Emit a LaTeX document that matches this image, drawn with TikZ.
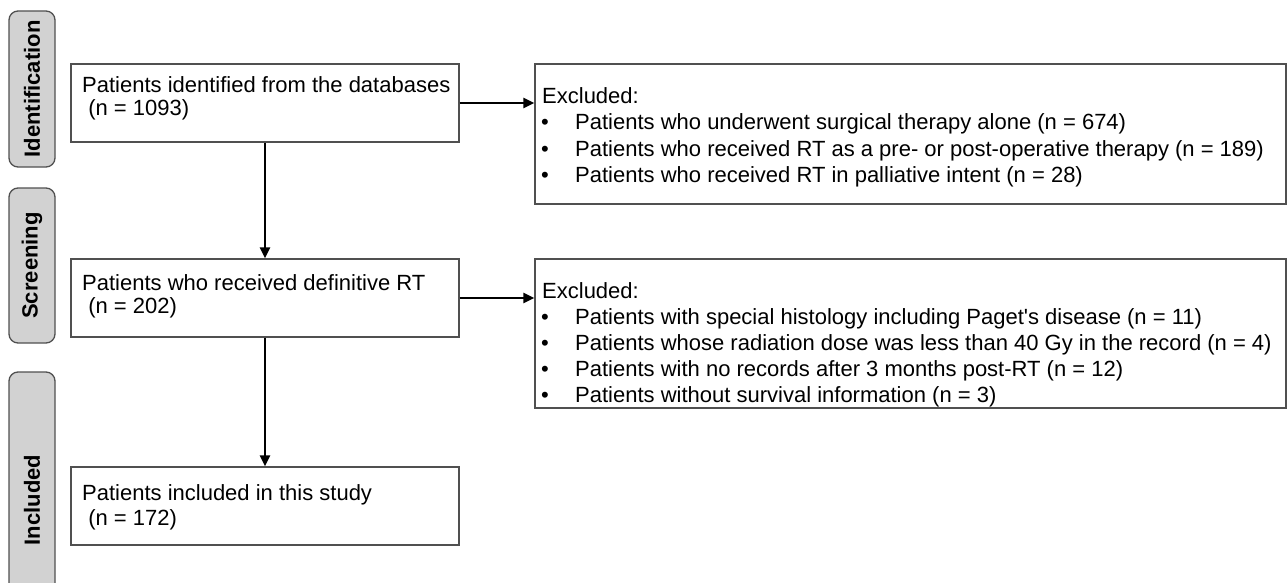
\documentclass[tikz,border=0pt]{standalone}
\usepackage{fontspec}
\setmainfont{Liberation Sans}
\usetikzlibrary{arrows.meta}
\definecolor{boxline}{HTML}{505050}
\definecolor{pillfill}{HTML}{D2D2D2}
\begin{document}
\begin{tikzpicture}[x=1pt,y=-1pt,
  every node/.style={font=\fontsize{22}{26}\selectfont},
  box/.style={draw=boxline,line width=1.3pt,rectangle,inner sep=0pt,fill=white},
  pill/.style={draw=boxline,line width=1.3pt,rounded corners=9pt,fill=pillfill,rotate=90,inner sep=0pt,minimum height=46pt,font=\fontsize{22}{26}\selectfont\bfseries},
  txt/.style={anchor=base west,inner sep=0pt},
  arr/.style={line width=2.8pt,-{Triangle[length=11pt,width=10pt]}}
]
\useasboundingbox (0,0) rectangle (1287,583);
\clip (0,0) rectangle (1287,583);
% stage pills
\node[pill,minimum width=156pt] (pid) at (32,89) {Identification};
\node[pill,minimum width=155pt] (psc) at (32,265.5) {Screening};
\node[pill,minimum width=256pt] (pin) at (32,500) {Included};
% boxes
\node[box,minimum width=388pt,minimum height=78pt] (b1) at (265,103) {};
\node[box,minimum width=751pt,minimum height=140pt] (b2) at (910.5,134) {};
\node[box,minimum width=388pt,minimum height=78pt] (b3) at (265,298) {};
\node[box,minimum width=751pt,minimum height=149pt] (b4) at (910.5,333.5) {};
\node[box,minimum width=388pt,minimum height=78pt] (b5) at (265,506) {};
% texts box 1
\node[txt] (t1a) at (82,93) {Patients identified from the databases};
\node[txt] (t1b) at (82,116) {\ (n = 1093)};
% box 2
\node[txt] (t2a) at (542,104) {Excluded:};
\node[txt] (t2b) at (541,130) {•};
\node[txt] (t2c) at (575,130) {Patients who underwent surgical therapy alone (n = 674)};
\node[txt] (t2d) at (541,156) {•};
\node[txt] (t2e) at (575,156) {Patients who received RT as a pre- or post-operative therapy (n = 189)};
\node[txt] (t2f) at (541,182) {•};
\node[txt] (t2g) at (575,182) {Patients who received RT in palliative intent (n = 28)};
% box 3
\node[txt] (t3a) at (82,290) {Patients who received definitive RT};
\node[txt] (t3b) at (82,313) {\ (n = 202)};
% box 4
\node[txt] (t4a) at (542,298) {Excluded:};
\node[txt] (t4b) at (541,324) {•};
\node[txt] (t4c) at (575,324) {Patients with special histology including Paget\textquotesingle s disease (n = 11)};
\node[txt] (t4d) at (541,350) {•};
\node[txt] (t4e) at (575,350) {Patients whose radiation dose was less than 40 Gy in the record (n = 4)};
\node[txt] (t4f) at (541,376) {•};
\node[txt] (t4g) at (575,376) {Patients with no records after 3 months post-RT (n = 12)};
\node[txt] (t4h) at (541,402) {•};
\node[txt] (t4i) at (575,402) {Patients without survival information (n = 3)};
% box 5
\node[txt] (t5a) at (82,500) {Patients included in this study};
\node[txt] (t5b) at (82,525) {\ (n = 172)};
% arrows
\draw[arr] (b1.south) -- (b3.north);
\draw[arr] (b3.south) -- (b5.north);
\draw[arr] (b1.east) -- (b1.east -| b2.west);
\draw[arr] (b3.east) -- (b3.east -| b4.west);
\end{tikzpicture}
\end{document}
